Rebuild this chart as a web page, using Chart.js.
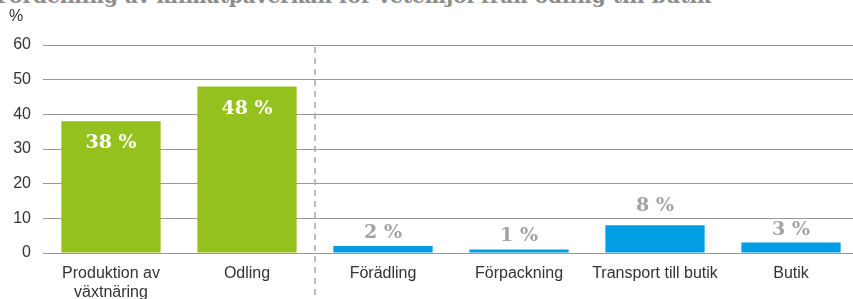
<!DOCTYPE html>
<html>
<head>
<meta charset="utf-8">
<script src="https://cdn.jsdelivr.net/npm/chart.js@4/dist/chart.umd.min.js"></script>
<style>
  html, body { margin: 0; padding: 0; background: #fff; overflow: hidden; }
  #wrap { position: relative; width: 853px; height: 299px; overflow: hidden; }
  #rubrik { position: absolute; left: -4px; top: -16px; white-space: nowrap;
    font: bold 20px "DejaVu Serif", serif; color: #8c8c8c; }
  canvas { position: absolute; left: 0; top: 0; }
</style>
</head>
<body>
<div id="wrap">
  <div id="rubrik">Fördelning av klimatpåverkan för vetemjöl från odling till butik</div>
  <canvas id="graf" width="860" height="299"></canvas>
</div>
<script>
// kategorier och värden (procent av total klimatpåverkan)
const kategorier = [['Produktion av', 'växtnäring'], 'Odling', 'Förädling', 'Förpackning', 'Transport till butik', 'Butik'];
const andelar = [38, 48, 2, 1, 8, 3];
const farger = ['#95c11f', '#95c11f', '#009fe3', '#009fe3', '#009fe3', '#009fe3'];
const yTicks = [0, 10, 20, 30, 40, 50, 60];

// etiketter på staplarna + streckad linje + %-tecken
const extraRitning = {
    id: 'extraRitning',
    afterDatasetsDraw(chart) {
        const ctx = chart.ctx;
        const meta = chart.getDatasetMeta(0);
        const x = chart.scales.x;
        const area = chart.chartArea;
        ctx.save();

        // streckad skiljelinje mellan odling och förädling
        const mitt = (x.getPixelForValue(1) + x.getPixelForValue(2)) / 2;
        ctx.strokeStyle = '#a8a8a8';
        ctx.lineWidth = 1.5;
        ctx.setLineDash([6, 5]);
        ctx.beginPath();
        ctx.moveTo(mitt, area.top + 2);
        ctx.lineTo(mitt, chart.height);
        ctx.stroke();
        ctx.setLineDash([]);

        ctx.font = 'bold 19px "DejaVu Serif", serif';
        ctx.textAlign = 'center';
        ctx.textBaseline = 'middle';
        meta.data.forEach((bar, i) => {
            const txt = andelar[i] + ' %';
            if (andelar[i] > 20) {
                ctx.fillStyle = '#ffffff';
                ctx.fillText(txt, bar.x, bar.y + 22);
            } else {
                ctx.fillStyle = '#a3a3a3';
                ctx.fillText(txt, bar.x, bar.y - (andelar[i] > 5 ? 19 : 13));
            }
        });

        ctx.fillStyle = '#333';
        ctx.font = '16px "Liberation Sans", Arial, sans-serif';
        ctx.textAlign = 'left';
        ctx.fillText('%', 9, 17);
        ctx.restore();
    }
};

const ctx = document.getElementById('graf').getContext('2d');

new Chart(ctx, {
    type: 'bar',
    data: {
        labels: kategorier,
        datasets: [{
            data: andelar,
            backgroundColor: farger,
            borderWidth: 0,
            barPercentage: 0.73,
            categoryPercentage: 1
        }]
    },
    options: {
        responsive: false,
        animation: false,
        layout: { padding: { top: 45, right: 1, bottom: 0, left: 0 } },
        plugins: {
            legend: { display: false },
            tooltip: { enabled: false }
        },
        scales: {
            x: {
                afterFit: s => { s.height = 46; },
                grid: { display: false },
                border: { display: false },
                ticks: {
                    color: '#333',
                    font: { family: '"Liberation Sans", Arial, sans-serif', size: 16, lineHeight: 1.2 },
                    padding: 3,
                    maxRotation: 0,
                    autoSkip: false
                }
            },
            y: {
                min: 0,
                max: 60,
                afterBuildTicks: s => { s.ticks = yTicks.map(v => ({ value: v })); },
                afterFit: s => { s.width = 43; },
                grid: { color: '#9a9a9a', lineWidth: 1, drawTicks: false },
                border: { display: false },
                ticks: {
                    color: '#333',
                    font: { family: '"Liberation Sans", Arial, sans-serif', size: 16 },
                    padding: 12
                }
            }
        }
    },
    plugins: [extraRitning]
});
</script>
</body>
</html>
